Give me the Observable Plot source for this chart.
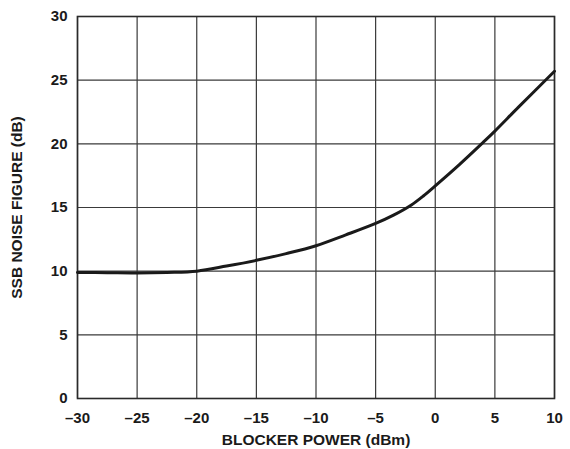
<!DOCTYPE html>
<html>
<head>
<meta charset="utf-8">
<script src="https://cdn.jsdelivr.net/npm/d3@7"></script>
<script src="https://cdn.jsdelivr.net/npm/@observablehq/plot@0.6"></script>
<style>
  html, body { margin: 0; padding: 0; background: #fff; }
  #chart svg { display: block; }
</style>
</head>
<body>
<div id="chart"></div>
<script>
// Data
const blockerPower = [-30, -27.5, -25, -22.5, -20, -17.5, -15, -12.5, -10, -7.5, -5, -3.5, -2, -1, 0, 2, 4, 5, 7, 10];
const noiseFigure  = [9.9, 9.88, 9.86, 9.9, 10.0, 10.4, 10.85, 11.38, 12.0, 12.85, 13.75, 14.4, 15.2, 15.9, 16.7, 18.35, 20.1, 21.0, 22.9, 25.7];

const xTicks = [-30, -25, -20, -15, -10, -5, 0, 5, 10];
const xTickLabels = ["–30", "–25", "–20", "–15", "–10", "–5", "0", "5", "10"];
const yTicks = [0, 5, 10, 15, 20, 25, 30];
const yTickLabels = ["0", "5", "10", "15", "20", "25", "30"];

const xLabel = "BLOCKER POWER (dBm)";
const yLabel = "SSB NOISE FIGURE (dB)";

const data = blockerPower.map((x, i) => ({x, y: noiseFigure[i]}));

const chart = Plot.plot({
  width: 570,
  height: 449,
  marginLeft: 77,
  marginRight: 16,
  marginTop: 16,
  marginBottom: 51,
  style: {fontFamily: "'Liberation Sans', Arial, sans-serif", fontWeight: "bold", fontSize: "15px", color: "#1a1a1a", background: "#fff"},
  x: {domain: [-30, 10]},
  y: {domain: [0, 30]},
  marks: [
    Plot.gridX(xTicks, {stroke: "#3a3a3a", strokeOpacity: 1, strokeWidth: 1.2}),
    Plot.gridY(yTicks, {stroke: "#3a3a3a", strokeOpacity: 1, strokeWidth: 1.2}),
    Plot.frame({stroke: "#2a2a2a", strokeWidth: 1.6}),
    Plot.axisX(xTicks, {
      tickSize: 0, tickPadding: 14, label: null,
      tickFormat: d => xTickLabels[xTicks.indexOf(d)],
      fontSize: 15
    }),
    Plot.axisX({
      ticks: [], tickSize: 0,
      label: xLabel, labelAnchor: "center", labelArrow: "none", labelOffset: 46,
      fontSize: 15.5
    }),
    Plot.axisY(yTicks, {
      tickSize: 0, tickPadding: 10, label: null,
      tickFormat: d => yTickLabels[yTicks.indexOf(d)],
      fontSize: 15
    }),
    Plot.axisY({
      ticks: [], tickSize: 0,
      label: yLabel, labelAnchor: "center", labelArrow: "none", labelOffset: 67,
      fontSize: 15.5
    }),
    Plot.line(data, {x: "x", y: "y", stroke: "#1a1a1a", strokeWidth: 3, curve: "catmull-rom"})
  ]
});
document.getElementById("chart").appendChild(chart);
</script>
</body>
</html>
